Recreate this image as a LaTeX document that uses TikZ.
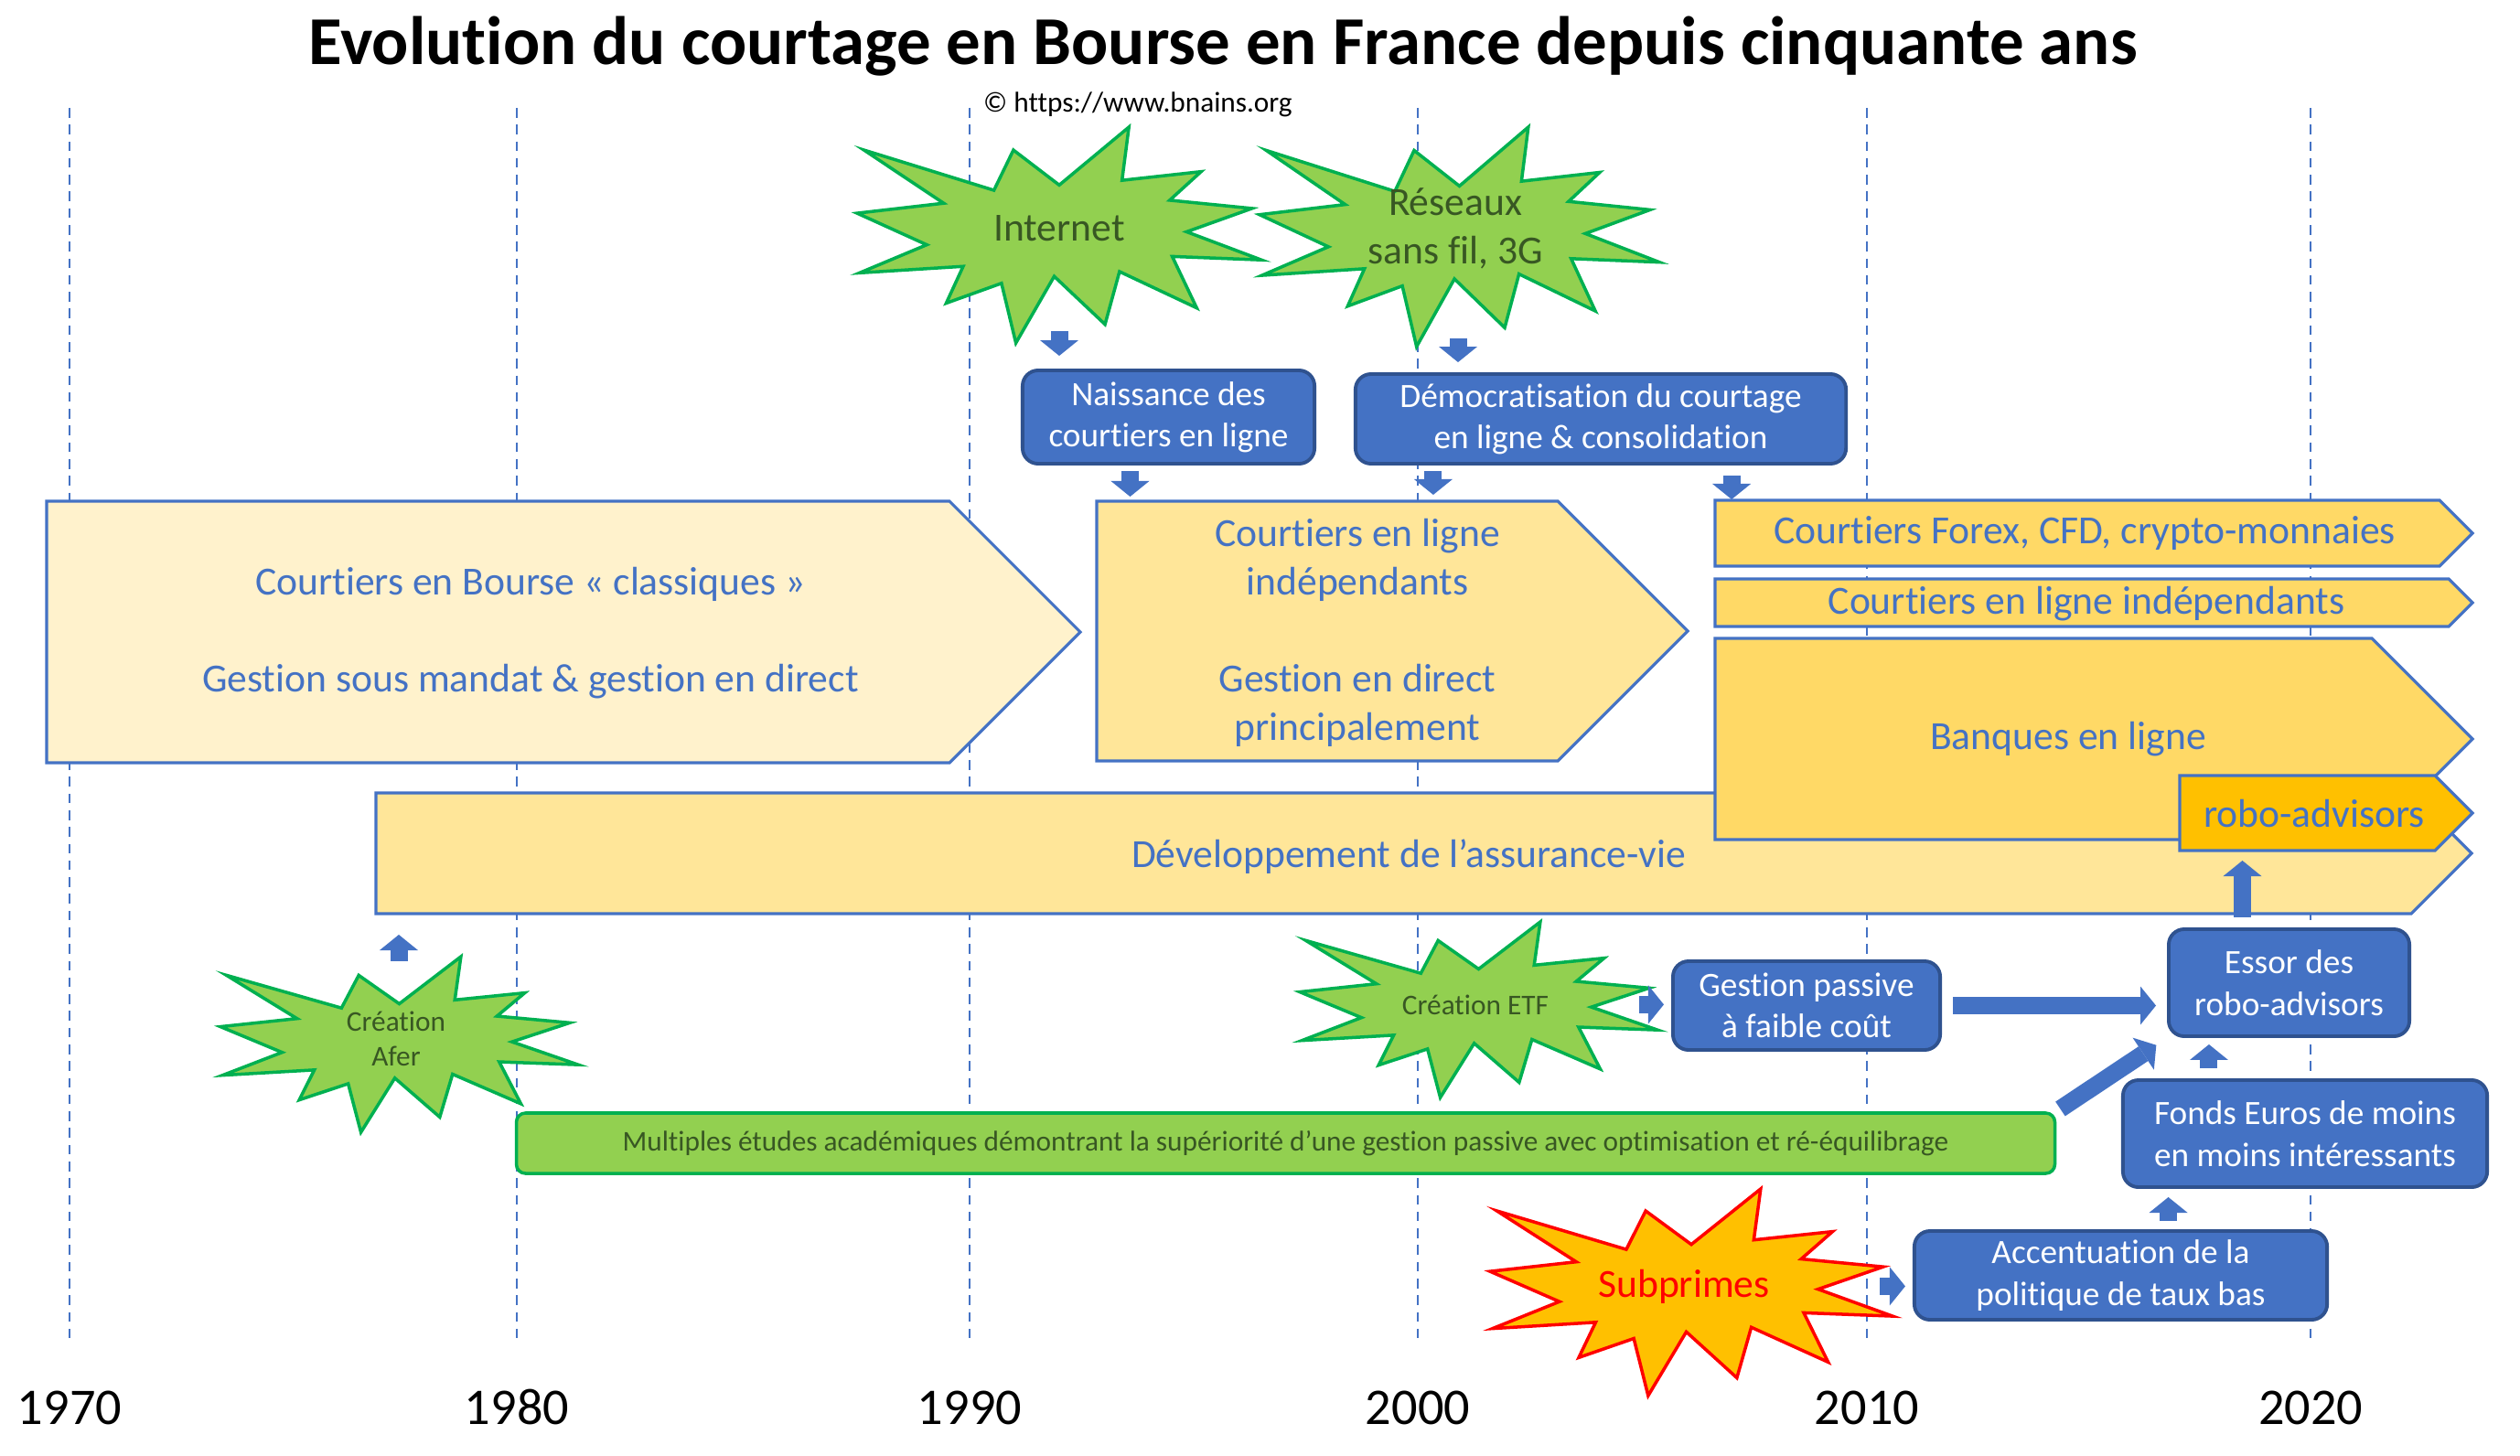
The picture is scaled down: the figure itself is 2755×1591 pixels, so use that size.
\documentclass[tikz,border=0pt]{standalone}
\usepackage{fontspec}
\setmainfont{Carlito}[Ligatures=NoCommon]
\usetikzlibrary{arrows.meta}

\definecolor{bluemid}{HTML}{4472C4}
\definecolor{bluedark}{HTML}{2F528F}
\definecolor{yelpale}{HTML}{FFF2CC}
\definecolor{yelmid}{HTML}{FFE699}
\definecolor{yeldeep}{HTML}{FFD966}
\definecolor{orangefill}{HTML}{FFC000}
\definecolor{greenfill}{HTML}{92D050}
\definecolor{greenline}{HTML}{00B050}
\definecolor{greentext}{HTML}{385723}

% explosion shape: style, left, top, width, height
\newcommand{\burst}[5]{%
  \draw[#1, shift={(#2,#3)}, xscale=#4, yscale=#5]
    (.5,.2685) -- (.6723,0) -- (.6553,.2465) -- (.8509,.2063) -- (.7732,.3387)
    -- (.9767,.3767) -- (.8151,.4850) -- (1,.6153) -- (.7795,.5992) -- (.8400,.8377)
    -- (.6491,.6693) -- (.6133,.9138) -- (.4876,.6914) -- (.3928,1) -- (.3572,.7235)
    -- (.2205,.8156) -- (.2624,.6452) -- (.0063,.6753) -- (.1723,.5451) -- (0,.3988)
    -- (.2142,.3526) -- (.0171,.1063) -- (.3385,.2926) -- (.3867,.1063) -- cycle;}

\begin{document}
\begin{tikzpicture}[
    x=0.01cm, y=-0.01cm,
    gridline/.style={draw=bluemid, line width=0.5pt, dash pattern=on 3pt off 2.2pt},
    yearlabel/.style={anchor=base, inner sep=0pt, font=\fontsize{16}{19.5}\selectfont},
    burstgreen/.style={draw=greenline, fill=greenfill, line width=1pt},
    burstred/.style={draw=red, fill=orangefill, line width=1pt},
    bursttext/.style={align=center, inner sep=0pt, text=greentext, font=\fontsize{12.4}{15.1}\selectfont},
    smalltext/.style={align=center, inner sep=0pt, text=greentext, font=\fontsize{8.9}{10.9}\selectfont},
    eventbox/.style={draw=bluedark, fill=bluemid, line width=1.1pt, rounded corners=0.17cm, text=white, align=center, inner sep=0pt, font=\fontsize{10.6}{12.9}\selectfont},
    studybox/.style={draw=greenline, fill=greenfill, line width=1pt, rounded corners=0.1cm, smalltext},
    pentshape/.style={draw=bluemid, line width=0.9pt},
    penttext/.style={align=center, inner sep=0pt, text=bluemid, font=\fontsize{12.4}{15.1}\selectfont},
    blockarrow/.style={draw=bluemid, line width=0.19cm, -{Triangle[length=0.17cm, width=0.42cm, line width=0pt]}}
  ]

  \useasboundingbox (0,0) rectangle (2755,1591);

  % Timeline
  \foreach \yr/\x in {1970/76,1980/565,1990/1060,2000/1550,2010/2041,2020/2526} {
    \draw[gridline] (\x,118) -- (\x,1470);
    \node[yearlabel] (y\yr) at (\x,1557) {\yr};
  }

  % Title
  \node[anchor=base, inner sep=0pt, font=\fontsize{21.3}{26}\selectfont\bfseries] (title) at (1337,71) {Evolution du courtage en Bourse en France depuis cinquante ans};
  \node[anchor=base, inner sep=0pt, font=\fontsize{8.9}{10.9}\selectfont] (copyright) at (1244,123) {© https://www.bnains.org};

  % Events
  \burst{burstgreen}{937}{139}{442}{236}
  \node[bursttext, anchor=base] (internet) at (1158,264) {Internet};
  \burst{burstgreen}{1377}{139}{437}{240}
  \node[bursttext] (reseaux) at (1591,250) {Réseaux\\sans fil, 3G};
  \burst{burstgreen}{241}{1046}{391}{192}
  \node[smalltext] (afer) at (433,1136) {Création\\Afer};
  \burst{burstgreen}{1421}{1008}{391}{192}
  \node[smalltext, anchor=base] (etf) at (1613,1109) {Création ETF};
  \burst{burstred}{1629}{1300}{440}{226}
  \node[bursttext, text=red, anchor=base] (subprimes) at (1841,1418) {Subprimes};

  % Consequences
  \node[eventbox, minimum width=3.19cm, minimum height=1.02cm] (naissance) at (1277.5,456) {Naissance des\\courtiers en ligne};
  \node[eventbox, minimum width=5.36cm, minimum height=0.98cm] (democ) at (1750,458) {Démocratisation du courtage\\en ligne \& consolidation};
  \node[eventbox, minimum width=2.92cm, minimum height=0.97cm] (gestion) at (1975,1099.5) {Gestion passive\\à faible coût};
  \node[eventbox, minimum width=2.63cm, minimum height=1.17cm] (essor) at (2502.5,1074.5) {Essor des\\robo-advisors};
  \node[eventbox, minimum width=3.98cm, minimum height=1.17cm] (fonds) at (2520,1239.5) {Fonds Euros de moins\\en moins intéressants};
  \node[eventbox, minimum width=4.51cm, minimum height=0.97cm] (accent) at (2318.5,1394.5) {Accentuation de la\\politique de taux bas};

  % Periods
  \draw[pentshape, fill=yelpale] (51,548) -- (1038,548) -- (1181,691) -- (1038,834) -- (51,834) -- cycle;
  \node[penttext] (classic) at (580,692) {Courtiers en Bourse « classiques »\\ ~\\Gestion sous mandat \& gestion en direct};
  \draw[pentshape, fill=yelmid] (1199,548) coordinate (indep-top) -- (1703,548) -- (1845,690) -- (1703,832) -- (1199,832) -- cycle;
  \node[penttext] (indep) at (1484,692) {Courtiers en ligne\\indépendants\\ ~\\Gestion en direct\\principalement};
  \draw[pentshape, fill=yelmid] (411,867) -- (2636,867) -- (2702,933) -- (2636,999) -- (411,999) coordinate (dev-bottom) -- cycle;
  \node[penttext] (dev) at (1540,937) {Développement de l’assurance-vie};
  \draw[pentshape, fill=yeldeep] (1875,547) coordinate (forex-top) -- (2667,547) -- (2703,583) -- (2667,619) -- (1875,619) -- cycle;
  \node[penttext] (forex) at (2279,583) {Courtiers Forex, CFD, crypto-monnaies};
  \draw[pentshape, fill=yeldeep] (1875,633) -- (2677,633) -- (2703,659) -- (2677,685) -- (1875,685) -- cycle;
  \node[penttext] (rindep) at (2281,660) {Courtiers en ligne indépendants};
  \draw[pentshape, fill=yeldeep] (1875,698) -- (2593,698) -- (2703,808) -- (2593,918) -- (1875,918) -- cycle;
  \node[penttext] (banques) at (2261,808) {Banques en ligne};
  \draw[pentshape, fill=orangefill] (2383,848) -- (2662,848) -- (2703,889) -- (2662,930) coordinate (robo-bottom) -- (2383,930) -- cycle;
  \node[penttext] (robo) at (2530,890) {robo-advisors};

  \node[studybox, minimum width=16.81cm, minimum height=0.66cm] (multi) at (1405.5,1250) {Multiples études académiques démontrant la supériorité d’une gestion passive avec optimisation et ré-équilibrage};

  % Arrows
  \draw[blockarrow, shorten <=1.12cm, shorten >=0.14cm] (internet.center) -- (internet.center |- naissance.north);
  \draw[blockarrow, shorten <=1.2cm, shorten >=0.11cm] ([xshift=0.03cm]reseaux.center) -- ([xshift=0.03cm]reseaux.center |- democ.north);
  \draw[blockarrow, shorten <=0.06cm, shorten >=0.05cm] ([xshift=-0.42cm]naissance.south) -- ([xshift=-0.42cm]naissance.south |- indep-top);
  \draw[blockarrow, shorten <=0.06cm, shorten >=0.07cm] ([xshift=-1.83cm]democ.south) -- ([xshift=-1.83cm]democ.south |- indep-top);
  \draw[blockarrow, shorten <=0.11cm, shorten >=0.01cm] ([xshift=1.43cm]democ.south) -- ([xshift=1.43cm]democ.south |- forex-top);
  \draw[blockarrow, shorten <=0.85cm, shorten >=0.23cm] ([xshift=0.03cm]afer.center) -- ([xshift=0.03cm]afer.center |- dev-bottom);
  \draw[blockarrow, shorten <=1.79cm, shorten >=0.08cm] (etf.center) -- (etf.center -| gestion.west);
  \draw[blockarrow, shorten <=0.12cm, shorten >=0.12cm] (gestion.east) -- (gestion.east -| essor.west);
  \draw[blockarrow, shorten <=0.05cm, shorten >=0.14cm] (multi.north east) -- (essor.south west);
  \draw[blockarrow, shorten <=0.11cm, shorten >=0.11cm] ([xshift=-0.51cm]essor.north) -- ([xshift=-0.51cm]essor.north |- robo-bottom);
  \draw[blockarrow, shorten <=0.11cm, shorten >=0.07cm] ([xshift=-1.05cm]fonds.north) -- ([xshift=-1.05cm]fonds.north |- essor.south);
  \draw[blockarrow, shorten <=0.09cm, shorten >=0.09cm] ([xshift=0.52cm]accent.north) -- ([xshift=0.52cm]accent.north |- fonds.south);
  \draw[blockarrow, shorten <=2.14cm, shorten >=0.08cm] (subprimes.center) -- (subprimes.center -| accent.west);

\end{tikzpicture}
\end{document}
